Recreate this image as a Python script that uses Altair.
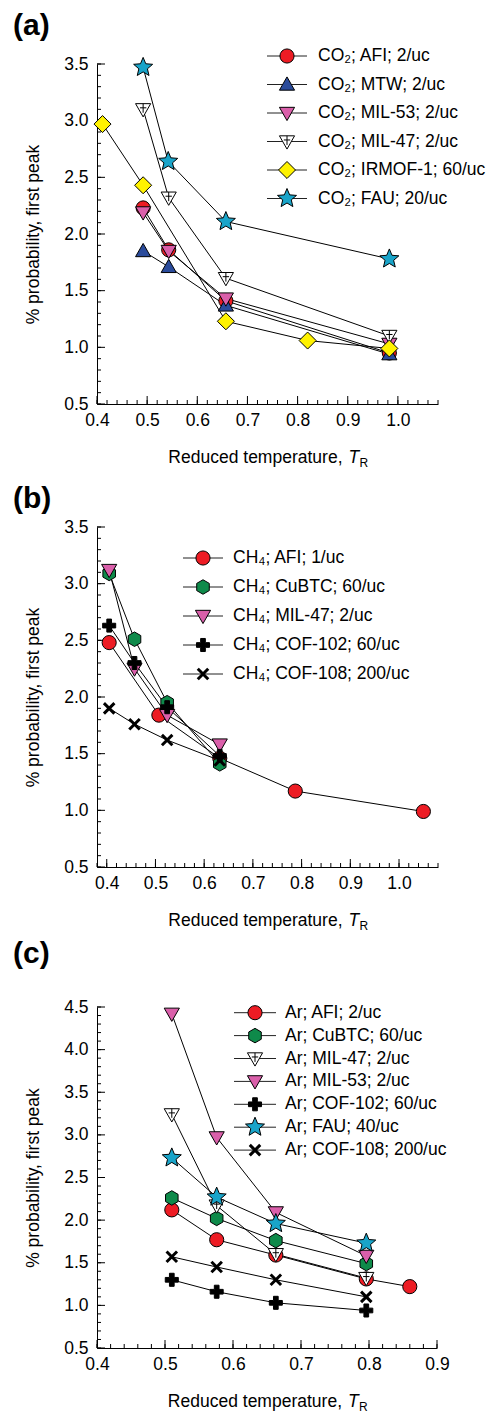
import math
import altair as alt
import pandas as pd

FONT = "Liberation Sans, Arial, Helvetica, sans-serif"
FS = 17.5

# ---------------- data ----------------
# Panel (a): CO2
a_names = ["CO₂; AFI; 2/uc", "CO₂; MTW; 2/uc", "CO₂; MIL-53; 2/uc",
           "CO₂; MIL-47; 2/uc", "CO₂; IRMOF-1; 60/uc", "CO₂; FAU; 20/uc"]
a_afi_x = [0.492, 0.543, 0.657, 0.983]
a_afi_y = [2.23, 1.86, 1.41, 0.95]
a_mtw_x = [0.492, 0.543, 0.657, 0.983]
a_mtw_y = [1.85, 1.71, 1.37, 0.94]
a_mil53_x = [0.492, 0.543, 0.657, 0.983]
a_mil53_y = [2.19, 1.85, 1.43, 1.03]
a_mil47_x = [0.492, 0.543, 0.657, 0.983]
a_mil47_y = [3.10, 2.32, 1.61, 1.10]
a_irmof_x = [0.411, 0.492, 0.657, 0.820, 0.983]
a_irmof_y = [2.97, 2.43, 1.23, 1.06, 0.99]
a_fau_x = [0.492, 0.542, 0.657, 0.983]
a_fau_y = [3.47, 2.64, 2.11, 1.78]

# Panel (b): CH4
b_names = ["CH₄; AFI; 1/uc", "CH₄; CuBTC; 60/uc", "CH₄; MIL-47; 2/uc",
           "CH₄; COF-102; 60/uc", "CH₄; COF-108; 200/uc"]
b_afi_x = [0.405, 0.507, 0.632, 0.787, 1.050]
b_afi_y = [2.48, 1.84, 1.46, 1.17, 0.99]
b_cubtc_x = [0.405, 0.457, 0.524, 0.632]
b_cubtc_y = [3.09, 2.51, 1.95, 1.41]
b_mil47_x = [0.405, 0.457, 0.524, 0.632]
b_mil47_y = [3.12, 2.25, 1.84, 1.58]
b_cof102_x = [0.405, 0.457, 0.524, 0.632]
b_cof102_y = [2.63, 2.30, 1.91, 1.48]
b_cof108_x = [0.405, 0.457, 0.524, 0.632]
b_cof108_y = [1.90, 1.76, 1.62, 1.44]

# Panel (c): Ar
c_names = ["Ar; AFI; 2/uc", "Ar; CuBTC; 60/uc", "Ar; MIL-47; 2/uc",
           "Ar; MIL-53; 2/uc", "Ar; COF-102; 60/uc", "Ar; FAU; 40/uc",
           "Ar; COF-108; 200/uc"]
c_afi_x = [0.510, 0.576, 0.663, 0.796, 0.860]
c_afi_y = [2.12, 1.77, 1.59, 1.31, 1.22]
c_cubtc_x = [0.510, 0.576, 0.663, 0.796]
c_cubtc_y = [2.26, 2.02, 1.76, 1.49]
c_mil47_x = [0.510, 0.576, 0.663, 0.796]
c_mil47_y = [3.24, 2.17, 1.60, 1.32]
c_mil53_x = [0.510, 0.576, 0.663, 0.796]
c_mil53_y = [4.42, 2.97, 2.09, 1.58]
c_cof102_x = [0.510, 0.576, 0.663, 0.796]
c_cof102_y = [1.30, 1.16, 1.03, 0.94]
c_fau_x = [0.510, 0.576, 0.663, 0.796]
c_fau_y = [2.73, 2.27, 1.96, 1.73]
c_cof108_x = [0.510, 0.576, 0.663, 0.796]
c_cof108_y = [1.57, 1.45, 1.30, 1.10]

# axis tick labels
a_xlabels = [0.4, 0.5, 0.6, 0.7, 0.8, 0.9, 1.0]
a_ylabels = [0.5, 1.0, 1.5, 2.0, 2.5, 3.0, 3.5]
b_xlabels = [0.4, 0.5, 0.6, 0.7, 0.8, 0.9, 1.0]
b_ylabels = [0.5, 1.0, 1.5, 2.0, 2.5, 3.0, 3.5]
c_xlabels = [0.4, 0.5, 0.6, 0.7, 0.8, 0.9]
c_ylabels = [0.5, 1.0, 1.5, 2.0, 2.5, 3.0, 3.5, 4.0, 4.5]

# ---------------- styles ----------------
RED, BLUE, PINK = "#ED1C24", "#2A4B9B", "#DA5FAA"
YELLOW, CYAN, GREEN = "#FFF200", "#19A4C9", "#0E8A4A"
WHITE, BLACK = "#FFFFFF", "#000000"


def star_path(n=5, r_in=0.45):
    pts = []
    for k in range(2 * n):
        r = 1.0 if k % 2 == 0 else r_in
        ang = -math.pi / 2 + k * math.pi / n
        pts.append((r * math.cos(ang), r * math.sin(ang)))
    return "M" + "L".join(f"{x:.3f},{y:.3f}" for x, y in pts) + "Z"


def hex_path():
    pts = []
    for k in range(6):
        ang = -math.pi / 2 + k * math.pi / 3
        pts.append((math.cos(ang), math.sin(ang)))
    return "M" + "L".join(f"{x:.3f},{y:.3f}" for x, y in pts) + "Z"


CIRCLE = "circle"
TRI_UP = "M-1,0.75L1,0.75L0,-1Z"
TRI_DN = "M-1,-0.75L1,-0.75L0,1Z"
TRI_DN_PLUS = "M-1,-0.75L1,-0.75L0,1Z M0,-0.75L0,0.45 M-0.42,-0.2L0.42,-0.2"
DIAMOND = "M0,-1L1,0L0,1L-1,0Z"
STAR = star_path()
HEX = hex_path()
PLUS = ("M-0.36,-1L0.36,-1L0.36,-0.36L1,-0.36L1,0.36L0.36,0.36L0.36,1"
        "L-0.36,1L-0.36,0.36L-1,0.36L-1,-0.36L-0.36,-0.36Z")
XMARK = "M-1,-1L1,1M-1,1L1,-1"

STY = {
    "circle": (CIRCLE, 200, 1.0),
    "tri_up": (TRI_UP, 230, 1.0),
    "tri_dn": (TRI_DN, 230, 1.0),
    "tri_dn_plus": (TRI_DN_PLUS, 230, 1.0),
    "diamond": (DIAMOND, 290, 1.0),
    "star": (STAR, 400, 1.0),
    "hex": (HEX, 210, 1.0),
    "plus": (PLUS, 170, 1.0),
    "x": (XMARK, 110, 3.0),
}


def frange(start, stop, step):
    n = int(round((stop - start) / step))
    return [round(start + i * step, 4) for i in range(n + 1)]


def make_panel(series, names, kinds, fills, xdom, ydom, W, H,
               xlabels, ylabels, xminor_step, legend_rows, legend_x,
               label, label_pos, off=0):
    """H is the plot (axis) height; `off` adds empty view space above it."""
    x0, x1 = xdom
    y0, y1 = ydom
    VH = H + off

    def px_x(px):
        return x0 + px / W * (x1 - x0)

    def px_y(py):
        return y1 - py / H * (y1 - y0)

    xaxis = alt.Axis(values=xlabels, format=".1f", ticks=False, grid=False,
                     domain=True, domainColor="black", domainWidth=1,
                     labelFont=FONT, labelFontSize=FS, labelColor="black",
                     labelPadding=7, labelFlush=False, labelOverlap=False,
                     title=None)
    yaxis = alt.Axis(values=ylabels, format=".1f", ticks=False, grid=False,
                     domain=True, domainColor="black", domainWidth=1,
                     labelFont=FONT, labelFontSize=FS, labelColor="black",
                     labelPadding=9, labelFlush=False, labelOverlap=False,
                     title="% probability, first peak", titleFont=FONT,
                     titleFontSize=FS, titleFontWeight="normal",
                     titleColor="black", titlePadding=21)
    xs = alt.Scale(domain=list(xdom), nice=False, zero=False)
    ys = alt.Scale(domain=list(ydom), nice=False, zero=False, range=[VH, off])

    def X(f):
        return alt.X(f, type="quantitative", scale=xs, axis=xaxis)

    def Y(f):
        return alt.Y(f, type="quantitative", scale=ys, axis=yaxis)

    shp = alt.Shape("series:N", scale=alt.Scale(type="ordinal", domain=names,
                    range=[STY[k][0] for k in kinds]), legend=None)
    fil = alt.Fill("series:N", scale=alt.Scale(type="ordinal", domain=names,
                   range=fills), legend=None)
    siz = alt.Size("series:N", scale=alt.Scale(type="ordinal", domain=names,
                   range=[STY[k][1] for k in kinds]), legend=None)
    swd = alt.StrokeWidth("series:N", scale=alt.Scale(type="ordinal", domain=names,
                          range=[STY[k][2] for k in kinds]), legend=None)

    rows = []
    for i, (name, (xs_, ys_)) in enumerate(zip(names, series)):
        for xv, yv in zip(xs_, ys_):
            rows.append({"series": name, "x": xv, "y": yv, "k": i})
    df = pd.DataFrame(rows)

    # ticks (inward)
    xmaj = pd.DataFrame({"v": xlabels})
    xmin_ = pd.DataFrame({"v": frange(x0, x1, xminor_step)})
    ymaj = pd.DataFrame({"v": ylabels})
    ymin_ = pd.DataFrame({"v": frange(y0, y1, 0.1)})
    tk = [
        alt.Chart(xmaj).mark_rule(color="black", strokeWidth=1).encode(
            x=X("v"), y=alt.value(VH), y2=alt.value(VH - 8)),
        alt.Chart(xmin_).mark_rule(color="black", strokeWidth=1).encode(
            x=X("v"), y=alt.value(VH), y2=alt.value(VH - 4)),
        alt.Chart(ymaj).mark_rule(color="black", strokeWidth=1).encode(
            y=Y("v"), x=alt.value(0), x2=alt.value(8)),
        alt.Chart(ymin_).mark_rule(color="black", strokeWidth=1).encode(
            y=Y("v"), x=alt.value(0), x2=alt.value(4)),
    ]

    lines = alt.Chart(df).mark_line(color="black", strokeWidth=1).encode(
        x=X("x"), y=Y("y"), detail="series:N", order="x:Q")
    pts = alt.Chart(df).mark_point(filled=True, opacity=1, fillOpacity=1).encode(
        x=X("x"), y=Y("y"), shape=shp, fill=fil, size=siz, strokeWidth=swd,
        stroke=alt.value("black"), order="k:Q")

    # legend
    lx1, lx2, lxt = legend_x
    lrows = []
    for i, name in enumerate(names):
        lrows.append({"series": name, "ly": px_y(legend_rows[i]),
                      "lx1": px_x(lx1), "lx2": px_x(lx2),
                      "lxm": px_x((lx1 + lx2) / 2), "lxt": px_x(lxt), "k": i})
    ldf = pd.DataFrame(lrows)
    lrule = alt.Chart(ldf).mark_rule(color="#222222", strokeWidth=1).encode(
        x=X("lx1"), x2=alt.X2("lx2"), y=Y("ly"))
    lpts = alt.Chart(ldf).mark_point(filled=True, opacity=1, fillOpacity=1).encode(
        x=X("lxm"), y=Y("ly"), shape=shp, fill=fil, size=siz, strokeWidth=swd,
        stroke=alt.value("black"), order="k:Q")
    ltxt = alt.Chart(ldf).mark_text(align="left", baseline="middle", font=FONT,
                                    fontSize=FS, color="black").encode(
        x=X("lxt"), y=Y("ly"), text="series:N")

    dummy = pd.DataFrame({"d": [0]})
    xr = W / 2 + 75
    ty = VH + 54
    t1 = alt.Chart(dummy).mark_text(text="Reduced temperature,", align="right",
                                    baseline="middle", font=FONT, fontSize=FS,
                                    color="black").encode(
        x=alt.value(xr), y=alt.value(ty))
    t2 = alt.Chart(dummy).mark_text(text="T", align="left", baseline="middle",
                                    font=FONT, fontSize=FS, fontStyle="italic",
                                    color="black").encode(
        x=alt.value(xr + 6), y=alt.value(ty))
    t3 = alt.Chart(dummy).mark_text(text="R", align="left", baseline="middle",
                                    font=FONT, fontSize=12, color="black").encode(
        x=alt.value(xr + 17), y=alt.value(ty + 5))
    lab = alt.Chart(dummy).mark_text(text=label, align="left", baseline="alphabetic",
                                     font=FONT, fontSize=30, fontWeight="bold",
                                     color="black").encode(
        x=alt.value(label_pos[0]), y=alt.value(label_pos[1] + off))

    return alt.layer(*tk, lines, pts, lrule, lpts, ltxt, t1, t2, t3, lab).properties(
        width=W, height=VH)


pa = make_panel(
    [(a_afi_x, a_afi_y), (a_mtw_x, a_mtw_y), (a_mil53_x, a_mil53_y),
     (a_mil47_x, a_mil47_y), (a_irmof_x, a_irmof_y), (a_fau_x, a_fau_y)],
    a_names, ["circle", "tri_up", "tri_dn", "tri_dn_plus", "diamond", "star"],
    [RED, BLUE, PINK, WHITE, YELLOW, CYAN],
    (0.4, 1.08), (0.5, 3.5), 341, 340, a_xlabels, a_ylabels, 0.02,
    [-8, 20.5, 49, 77.5, 106, 134.5], (170, 210, 221), "(a)", (-84, -29))

pb = make_panel(
    [(b_afi_x, b_afi_y), (b_cubtc_x, b_cubtc_y), (b_mil47_x, b_mil47_y),
     (b_cof102_x, b_cof102_y), (b_cof108_x, b_cof108_y)],
    b_names, ["circle", "hex", "tri_dn", "plus", "x"],
    [RED, GREEN, PINK, BLACK, BLACK],
    (0.38, 1.08), (0.5, 3.5), 341, 340, b_xlabels, b_ylabels, 0.02,
    [31, 60, 89, 118, 147], (86, 126, 136), "(b)", (-84, -19))

pc = make_panel(
    [(c_afi_x, c_afi_y), (c_cubtc_x, c_cubtc_y), (c_mil47_x, c_mil47_y),
     (c_mil53_x, c_mil53_y), (c_cof102_x, c_cof102_y), (c_fau_x, c_fau_y),
     (c_cof108_x, c_cof108_y)],
    c_names, ["circle", "hex", "tri_dn_plus", "tri_dn", "plus", "star", "x"],
    [RED, GREEN, WHITE, PINK, BLACK, CYAN, BLACK],
    (0.4, 0.9), (0.5, 4.5), 340, 341, c_xlabels, c_ylabels, 0.02,
    [5.7, 28.6, 51.5, 74.4, 97.3, 120.2, 143.1], (137, 179, 188), "(c)", (-84, -44),
    off=17)

chart = alt.vconcat(pa, pb, pc, spacing=123, bounds="flush").resolve_scale(
    shape="independent", fill="independent", size="independent",
    strokeWidth="independent"
).properties(
    padding={"left": 13, "top": 11, "right": 2, "bottom": 2}
).configure_view(stroke=None)

chart.save("out.html", embed_options={"renderer": "svg", "actions": False})
